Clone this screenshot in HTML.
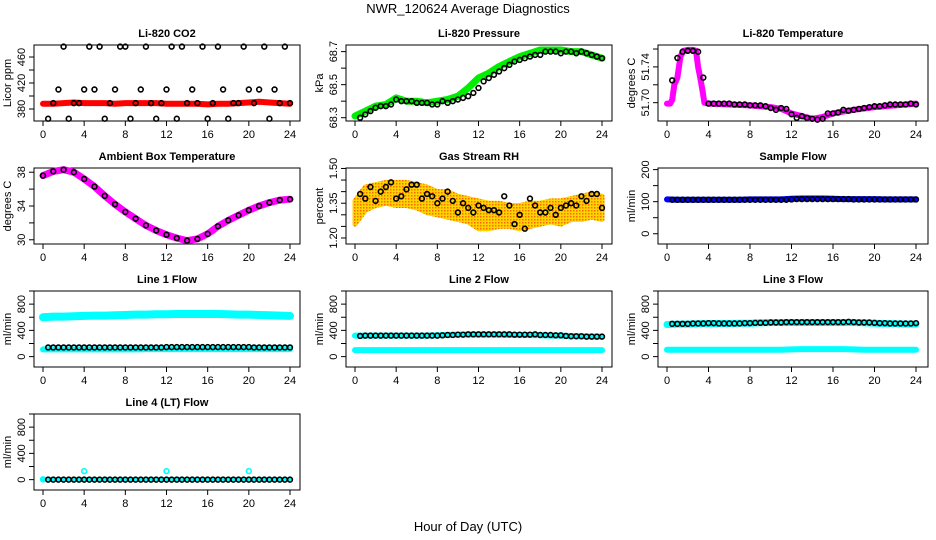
<!DOCTYPE html>
<html><head><meta charset="utf-8">
<style>
body{margin:0;background:#fff;}
svg{display:block;font-family:"Liberation Sans",sans-serif;}
</style></head>
<body>
<svg id="c" width="936" height="540" viewBox="0 0 936 540">
<defs>
<pattern id="rhpat" width="3" height="3" patternUnits="userSpaceOnUse">
<rect width="3" height="3" fill="#ffd400"/>
<rect width="1.5" height="1.5" fill="#ff6a00"/>
</pattern>
</defs>
<text x="468" y="13" text-anchor="middle" font-size="13">NWR_120624  Average Diagnostics</text>
<text x="468" y="531" text-anchor="middle" font-size="13">Hour of Day (UTC)</text>
</svg>
<script>
// shared x categories
const HOURS = [0,1,2,3,4,5,6,7,8,9,10,11,12,13,14,15,16,17,18,19,20,21,22,23,24];
const HALF = [0.5,1,1.5,2,2.5,3,3.5,4,4.5,5,5.5,6,6.5,7,7.5,8,8.5,9,9.5,10,10.5,11,11.5,12,12.5,13,13.5,14,14.5,15,15.5,16,16.5,17,17.5,18,18.5,19,19.5,20,20.5,21,21.5,22,22.5,23,23.5,24];
const X_TICKS = [0,4,8,12,16,20,24];

// CO2
const co2Band = [388,388,389,390,389,389,389,388,389,389,389,389,388,388,388,388,387,388,388,389,390,391,390,389,388];
const co2Black = [365,389,410,476,365,389,389,410,476,410,476,365,389,410,476,476,365,389,410,476,389,365,389,410,476,365,476,389,410,389,476,365,389,476,410,365,389,389,476,410,389,410,476,365,410,389,476,389];
// Pressure
const presBand = [68.31,68.34,68.37,68.38,68.42,68.40,68.40,68.39,68.40,68.41,68.43,68.48,68.54,68.57,68.61,68.64,68.67,68.69,68.71,68.71,68.71,68.70,68.70,68.68,68.66];
const presBlack = [68.30,68.32,68.34,68.36,68.37,68.37,68.38,68.41,68.40,68.40,68.40,68.39,68.39,68.39,68.38,68.38,68.40,68.39,68.40,68.41,68.42,68.43,68.45,68.48,68.52,68.54,68.56,68.58,68.60,68.62,68.64,68.65,68.66,68.67,68.68,68.68,68.70,68.70,68.70,68.69,68.70,68.70,68.69,68.70,68.69,68.68,68.67,68.66];
// Li-820 temperature
const tempX = [0,0.3,0.5,0.7,1,1.3,1.6,2,2.5,2.8,3,3.2,3.4,3.6,4,6,8,10,11,12,13,14,15,16,17,18,20,22,24];
const tempBand = [51.699,51.699,51.703,51.72,51.728,51.752,51.758,51.759,51.759,51.758,51.74,51.728,51.715,51.700,51.699,51.698,51.697,51.695,51.693,51.688,51.685,51.682,51.684,51.688,51.690,51.692,51.695,51.697,51.699];
const tempBlack = [51.725,51.75,51.757,51.758,51.758,51.757,51.728,51.699,51.699,51.699,51.699,51.699,51.698,51.698,51.698,51.697,51.697,51.697,51.696,51.694,51.692,51.694,51.693,51.687,51.683,51.685,51.683,51.682,51.681,51.682,51.688,51.688,51.689,51.692,51.691,51.692,51.693,51.694,51.695,51.696,51.696,51.697,51.698,51.698,51.698,51.698,51.699,51.698];
// Ambient box temperature
const ambBand = [37.6,38.1,38.3,38.0,37.2,36.3,35.2,34.2,33.3,32.5,31.7,31.1,30.6,30.2,29.9,30.1,30.7,31.6,32.3,32.9,33.5,34.0,34.4,34.7,34.8];
// Gas stream RH
const rhUpper = [1.36,1.42,1.43,1.44,1.44,1.44,1.43,1.42,1.40,1.40,1.38,1.37,1.36,1.35,1.35,1.34,1.34,1.35,1.35,1.36,1.36,1.37,1.38,1.39,1.38];
const rhLower = [1.26,1.32,1.34,1.35,1.34,1.34,1.33,1.31,1.30,1.29,1.28,1.27,1.24,1.24,1.25,1.25,1.24,1.25,1.26,1.27,1.26,1.28,1.28,1.29,1.28];
const rhBlack = [1.39,1.37,1.42,1.36,1.40,1.42,1.44,1.37,1.38,1.41,1.43,1.43,1.37,1.39,1.38,1.35,1.37,1.40,1.36,1.31,1.35,1.33,1.31,1.34,1.33,1.32,1.32,1.31,1.38,1.34,1.26,1.30,1.24,1.37,1.34,1.31,1.31,1.33,1.30,1.33,1.34,1.35,1.34,1.38,1.36,1.39,1.39,1.33];
// Sample flow
const sampBand = [107,106,106,106,106,106,106,106,107,107,107,107,109,110,110,110,109,108,108,108,108,107,107,107,107];
const sampBlack = [106,106,106,106,106,106,106,106,106,106,106,106,106,106,106,106,106,106,106,106,106,106,106,107,108,108,108,108,108,108,108,108,108,108,108,107,107,107,107,107,107,107,107,107,107,107,107,107];
// Line flows
const l1Upper = [600,610,610,615,620,625,625,630,635,640,640,645,645,650,650,650,650,650,645,640,640,635,630,625,620];
const l1Lower = [110,110,110,110,110,110,110,110,110,110,115,115,115,115,115,115,115,115,115,115,115,115,115,115,115];
const l1Black = [140,140,140,140,140,140,140,140,140,140,140,140,140,140,140,140,140,140,140,140,140,140,140,145,145,145,145,145,145,145,145,145,145,145,145,145,145,145,145,145,140,140,140,140,140,140,140,140];
const l2Upper = [320,320,320,320,320,320,320,320,325,330,335,335,335,335,335,330,330,330,325,320,320,315,310,305,305];
const l2Lower = [100,100,100,100,100,100,100,100,100,100,100,100,100,100,100,100,100,100,100,100,100,100,100,100,100];
const l2Black = [315,320,320,320,320,320,320,320,320,320,320,320,320,320,320,320,325,330,330,335,335,340,340,340,340,340,340,340,340,340,335,335,335,335,340,330,330,330,325,325,315,310,310,310,305,305,305,305];
const l3Upper = [490,495,495,500,505,505,505,510,510,515,520,520,520,520,520,520,520,520,520,515,510,505,500,495,495];
const l3Lower = [105,105,105,105,105,105,105,105,105,105,105,105,110,115,115,115,115,115,110,105,105,105,105,105,105];
const l3Black = [500,500,500,500,505,505,505,510,510,505,505,505,505,505,510,510,515,515,515,520,520,520,525,525,525,525,525,525,525,525,525,525,525,525,530,525,520,520,520,515,510,510,505,505,505,505,505,510];
const l4Band = [5,5,5,5,5,5,5,5,5,5,5,5,5,5,5,5,5,5,5,5,5,5,5,5,5];
const l4OutX = [0,4,12,20];
const l4Out = [5,130,130,130];
const l4Black = [0,0,0,0,0,0,0,0,0,0,0,0,0,0,0,0,0,0,0,0,0,0,0,0,0,0,0,0,0,0,0,0,0,0,0,0,0,0,0,0,0,0,0,0,0,0,0,0];

const NS = "http://www.w3.org/2000/svg";
const svg = document.getElementById('c');
function mk(tag, attrs, parent){
  const e = document.createElementNS(NS, tag);
  for (const k in attrs) e.setAttribute(k, attrs[k]);
  (parent||svg).appendChild(e);
  return e;
}

function panel(col, row, title, ytitle, ymin, ymax, yticks, ylabels, key){
  const g = mk('g', {});
  
  
  const L = 34 + 312*col, R = 300 + 312*col + (col==2?4:0);
  const T = 45 + 123*row, B = T + 76;
  const x0 = 43 + 312*col, x1 = 290 + 312*col + (col==2?2:0);
  const xs = h => x0 + (x1 - x0) * h / 24;
  const ys = v => B - (v - ymin) / (ymax - ymin) * (B - T);
  const t = mk('text', {x:(L+R)/2, y:T-8, 'text-anchor':'middle', 'font-size':11, 'font-weight':'bold'}, g);
  t.textContent = title;
  
  
  const box = mk('rect', {x:L, y:T, width:R-L, height:B-T, fill:'none', stroke:'#000', 'stroke-width':1}, g);
  
  
  const xa = mk('g', {}, g);
  
  
  mk('line', {x1:xs(0), x2:xs(24), y1:B, y2:B, stroke:'#000'}, xa);
  X_TICKS.forEach(h => {
    mk('line', {x1:xs(h), x2:xs(h), y1:B, y2:B+5, stroke:'#000'}, xa);
    const tl = mk('text', {x:xs(h), y:B+17, 'text-anchor':'middle', 'font-size':11}, xa);
    tl.textContent = h;
    
    
  });
  const ya = mk('g', {}, g);
  
  
  mk('line', {x1:L, x2:L, y1:ys(yticks[0]), y2:ys(yticks[yticks.length-1]), stroke:'#000'}, ya);
  yticks.forEach((v,i) => {
    mk('line', {x1:L-5, x2:L, y1:ys(v), y2:ys(v), stroke:'#000'}, ya);
    if (ylabels[i] !== '') {
      const yl = mk('text', {x:0, y:0, 'text-anchor':'middle', 'font-size':11, transform:`translate(${L-9},${ys(v)}) rotate(-90)`}, ya);
      yl.textContent = ylabels[i];
      
      
    }
  });
  const yt = mk('text', {x:0, y:0, 'text-anchor':'middle', 'font-size':11, transform:`translate(${L-23},${(T+B)/2}) rotate(-90)`}, g);
  yt.textContent = ytitle;
  
  
  return {g, xs, ys, T, B, L, R};
}

function band(p, xv, vals, color, w, name){
  const d = xv.map((h,i) => `${i?'L':'M'}${p.xs(h).toFixed(1)},${p.ys(vals[i]).toFixed(1)}`).join('');
  const e = mk('path', {d, fill:'none', stroke:color, 'stroke-width':w, 'stroke-linejoin':'round', 'stroke-linecap':'round'}, p.g);
  
  
}
function area(p, xv, up, lo, color, name){
  let d = xv.map((h,i) => `${i?'L':'M'}${p.xs(h).toFixed(1)},${p.ys(up[i]).toFixed(1)}`).join('');
  for (let i = xv.length-1; i >= 0; i--) d += `L${p.xs(xv[i]).toFixed(1)},${p.ys(lo[i]).toFixed(1)}`;
  d += 'Z';
  const e = mk('path', {d, fill:color, stroke:color, 'stroke-width':5, 'stroke-linejoin':'round'}, p.g);
  
  
}
function dots(p, xv, vals, color, name){
  const gg = mk('g', {}, p.g);
  
  
  xv.forEach((h,i) => {
    const c = mk('circle', {cx:p.xs(h), cy:p.ys(vals[i]), r:2.4, fill:'none', stroke:color, 'stroke-width':1.6}, gg);
    
    
  });
}

let p;
p = panel(0,0,'Li-820 CO2','Licor ppm',361.5,478.5,[380,400,420,440,460],['380','','420','','460'],'co2');
band(p, HOURS, co2Band, '#ff0000', 6, 'co2-raw-band');
dots(p, HALF, co2Black, '#000', 'co2-average-points');

p = panel(1,0,'Li-820 Pressure','kPa',68.28,68.74,[68.3,68.4,68.5,68.6,68.7],['68.3','','68.5','','68.7'],'pressure');
band(p, HOURS, presBand, '#00ee00', 7, 'pressure-raw-band');
dots(p, HALF, presBlack, '#000', 'pressure-average-points');

p = panel(2,0,'Li-820 Temperature','degrees C',51.6795,51.7645,[51.70,51.72,51.74,51.76],['51.70','','51.74',''],'li820-temp');
band(p, tempX, tempBand, '#ff00ff', 6, 'li820-temp-raw-band');
dots(p, HALF, tempBlack, '#000', 'li820-temp-average-points');

p = panel(0,1,'Ambient Box Temperature','degrees C',29.5,38.5,[30,32,34,36,38],['30','','34','','38'],'ambient');
band(p, HOURS, ambBand, '#ff00ff', 7, 'ambient-raw-band');
dots(p, HOURS, ambBand, '#000', 'ambient-average-points');

p = panel(1,1,'Gas Stream RH','percent',1.174,1.502,[1.20,1.25,1.30,1.35,1.40,1.45,1.50],['1.20','','','1.35','','','1.50'],'rh');
area(p, HOURS, rhUpper, rhLower, 'url(#rhpat)', 'rh-raw-cloud');
dots(p, HALF, rhBlack, '#000', 'rh-average-points');

p = panel(2,1,'Sample Flow','ml/min',-32,205,[0,50,100,150,200],['0','','100','','200'],'sample-flow');
band(p, HOURS, sampBand, '#0000ff', 6, 'sample-flow-raw-band');
dots(p, HALF, sampBlack, '#000', 'sample-flow-average-points');

const FT = [0,200,400,600,800,1000], FL = ['0','','400','','800',''];
p = panel(0,2,'Line 1 Flow','ml/min',-158,1000,FT,FL,'line1');
band(p, HOURS, l1Upper, '#00ffff', 8, 'line1-upper-band');
band(p, HOURS, l1Lower, '#00ffff', 6, 'line1-lower-band');
dots(p, HALF, l1Black, '#000', 'line1-average-points');

p = panel(1,2,'Line 2 Flow','ml/min',-158,1000,FT,FL,'line2');
band(p, HOURS, l2Upper, '#00ffff', 6, 'line2-upper-band');
band(p, HOURS, l2Lower, '#00ffff', 6, 'line2-lower-band');
dots(p, HALF, l2Black, '#000', 'line2-average-points');

p = panel(2,2,'Line 3 Flow','ml/min',-158,1000,FT,FL,'line3');
band(p, HOURS, l3Upper, '#00ffff', 7, 'line3-upper-band');
band(p, HOURS, l3Lower, '#00ffff', 6, 'line3-lower-band');
dots(p, HALF, l3Black, '#000', 'line3-average-points');

p = panel(0,3,'Line 4 (LT) Flow','ml/min',-158,1000,FT,FL,'line4');
band(p, HOURS, l4Band, '#00ffff', 4, 'line4-band');
dots(p, l4OutX, l4Out, '#00ffff', 'line4-outlier-points');
dots(p, HALF, l4Black, '#000', 'line4-average-points');
</script>
</body></html>
